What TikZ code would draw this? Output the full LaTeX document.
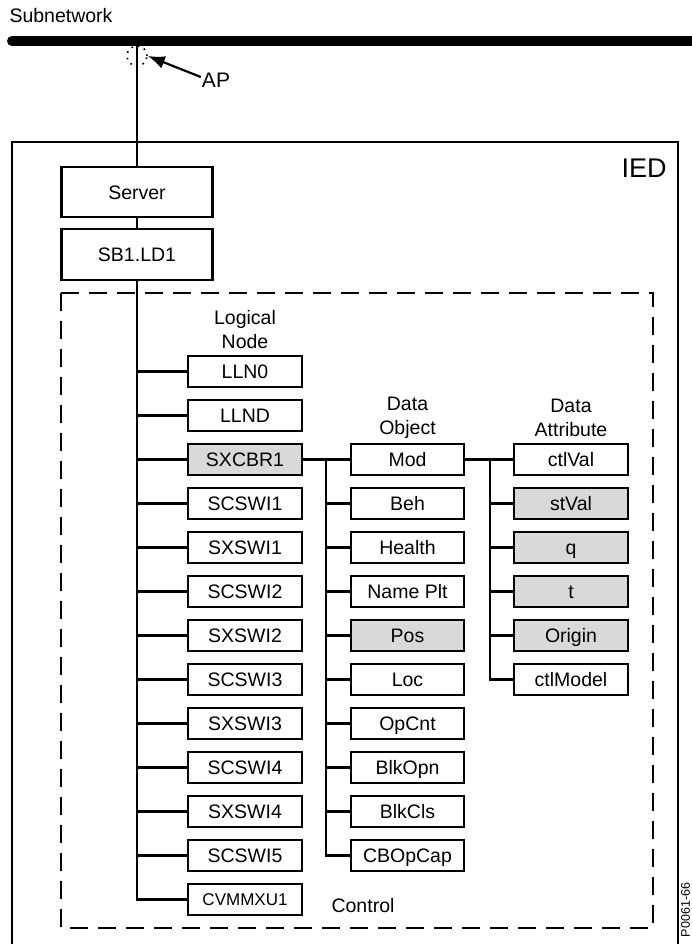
\documentclass[tikz,border=0pt]{standalone}
\usepackage{fontspec}
\setmainfont{Liberation Sans}
\usetikzlibrary{arrows.meta}
\definecolor{boxgray}{RGB}{217,217,217}
\begin{document}
\begin{tikzpicture}[x=1pt,y=-1pt,
  every node/.style={font=\fontsize{19.5}{24}\selectfont, inner sep=0pt},
  box/.style={draw, line width=2.1pt, fill=white, minimum width=114pt, minimum height=31pt, text height=14pt, text depth=0pt},
  gbox/.style={box, fill=boxgray},
  conn/.style={line width=2.1pt},
  heading/.style={align=center},
  apptr/.style={line width=2.2pt, -{Latex[length=17pt,width=13pt]}}
]
\useasboundingbox (0,0) rectangle (692,944);

% subnetwork bus
\node (subnet) at (61,16) {Subnetwork};
\coordinate (busL) at (12,41);
\coordinate (busR) at (700,41);
\draw[line width=10pt, line cap=round] (busL) -- (busR);
\coordinate (ap) at (137,41);

% IED frame
\draw[line width=1.8pt] (12,950) -- (12,142) -- (678,142) -- (678,950);
\node[font=\fontsize{27}{30}\selectfont] (ied) at (644,168) {IED};

% dashed logical device frame
\draw[line width=2.2pt, dash pattern=on 18pt off 10pt] (61,293) rectangle (653,928);

% server / logical device
\node[box, minimum width=151pt, minimum height=50pt] (server) at (137,192) {Server};
\node[box, minimum width=151pt, minimum height=51pt] (sb1) at (137,254.5) {SB1.LD1};

% access point
\draw[conn] (ap) -- (server.north);
\node[circle, draw, line width=1.6pt, dash pattern=on 1.6pt off 5pt, minimum size=20pt] (apc) at (137,56) {};
\node[font=\fontsize{21}{24}\selectfont] (aplbl) at (216,80) {AP};
\draw[apptr] (aplbl.west) ++(-1,-3) -- (apc.east);

\draw[conn] (server) -- (sb1);

% headings
\node[heading] (hln) at (245,330) {Logical\\Node};
\node[heading] (hdo) at (407.5,417.5) {Data\\Object};
\node[heading] (hda) at (571,417.5) {Data\\Attribute};
\node (ctrl) at (363,906) {Control};

% logical nodes
\node[box] (ln0) at (245,371.5) {LLN0};
\node[box] (ln1) at (245,415.5) {LLND};
\node[gbox] (ln2) at (245,459.5) {SXCBR1};
\node[box] (ln3) at (245,503.5) {SCSWI1};
\node[box] (ln4) at (245,547.5) {SXSWI1};
\node[box] (ln5) at (245,591.5) {SCSWI2};
\node[box] (ln6) at (245,635.5) {SXSWI2};
\node[box] (ln7) at (245,679.5) {SCSWI3};
\node[box] (ln8) at (245,723.5) {SXSWI3};
\node[box] (ln9) at (245,767.5) {SCSWI4};
\node[box] (ln10) at (245,811.5) {SXSWI4};
\node[box] (ln11) at (245,855.5) {SCSWI5};
\node[box, font=\fontsize{17}{20}\selectfont, text height=12pt] (ln12) at (245,899.5) {CVMMXU1};

\draw[conn] (sb1.south) |- (ln12.west);
\foreach \i in {0,...,11} {
  \draw[conn] (ln\i.west -| sb1.south) -- (ln\i.west);
}

% data objects
\node[box, minimum width=113pt] (do0) at (407.5,459.5) {Mod};
\node[box, minimum width=113pt] (do1) at (407.5,503.5) {Beh};
\node[box, minimum width=113pt] (do2) at (407.5,547.5) {Health};
\node[box, minimum width=113pt] (do3) at (407.5,591.5) {Name Plt};
\node[gbox, minimum width=113pt] (do4) at (407.5,635.5) {Pos};
\node[box, minimum width=113pt] (do5) at (407.5,679.5) {Loc};
\node[box, minimum width=113pt] (do6) at (407.5,723.5) {OpCnt};
\node[box, minimum width=113pt] (do7) at (407.5,767.5) {BlkOpn};
\node[box, minimum width=113pt] (do8) at (407.5,811.5) {BlkCls};
\node[box, minimum width=113pt] (do9) at (407.5,855.5) {CBOpCap};

\coordinate (dotrunk) at (326,459.5);
\draw[conn] (ln2.east) -- (do0.west);
\draw[conn] (dotrunk) |- (do9.west);
\foreach \i in {1,...,8} {
  \draw[conn] (do\i.west -| dotrunk) -- (do\i.west);
}

% data attributes
\node[box] (da0) at (571,459.5) {ctlVal};
\node[gbox] (da1) at (571,503.5) {stVal};
\node[gbox] (da2) at (571,547.5) {q};
\node[gbox] (da3) at (571,591.5) {t};
\node[gbox] (da4) at (571,635.5) {Origin};
\node[box] (da5) at (571,679.5) {ctlModel};

\coordinate (datrunk) at (490,459.5);
\draw[conn] (do0.east) -- (da0.west);
\draw[conn] (datrunk) |- (da5.west);
\foreach \i in {1,...,4} {
  \draw[conn] (da\i.west -| datrunk) -- (da\i.west);
}

% figure id
\node[rotate=90, font=\fontsize{12.5}{15}\selectfont] (figid) at (685.5,910) {P0061-66};
\end{tikzpicture}
\end{document}
